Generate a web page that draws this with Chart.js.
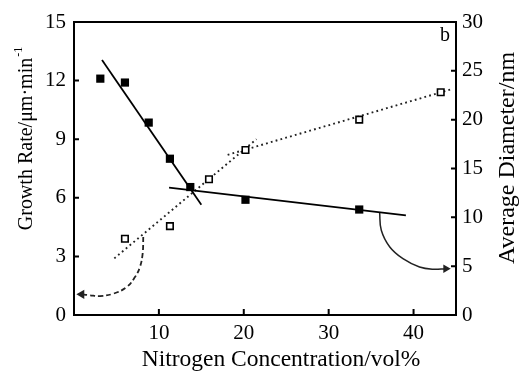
<!DOCTYPE html>
<html>
<head>
<meta charset="utf-8">
<script src="https://cdn.jsdelivr.net/npm/chart.js@4/dist/chart.umd.min.js"></script>
<style>
html, body { margin: 0; padding: 0; background: #fff; }
#wrap { width: 526px; height: 374px; }
</style>
</head>
<body>
<div id="wrap"><canvas id="lineChart"></canvas></div>
<script>
// growth rate, left axis (filled squares)
var rateX = [3.1, 6.0, 8.8, 11.3, 13.7, 20.2, 33.6];
var rateY = [12.1, 11.9, 9.85, 8.0, 6.55, 5.9, 5.4];
// average diameter, right axis (open squares)
var diamX = [6.0, 11.3, 15.9, 20.2, 33.6, 43.2];
var diamY = [7.8, 9.1, 13.9, 16.9, 20.0, 22.8];
// fitted lines
var fit1X = [3.3, 15.0];
var fit1Y = [13.05, 5.65];
var fit2X = [11.2, 39.1];
var fit2Y = [6.52, 5.1];
var dotAX = [4.75, 21.5];
var dotAY = [5.8, 18.0];
var dotBX = [18.1, 44.4];
var dotBY = [16.4, 23.1];
// curved arrows pointing at the axes
var arrLX = [8.16, 8.09, 7.77, 7.18, 6.2, 4.63, 3.06, 1.88, 0.9];
var arrLY = [3.99, 3.15, 2.46, 1.94, 1.43, 1.09, 0.97, 1.01, 1.06];
var arrRX = [36.0, 36.2, 37.2, 38.75, 40.7, 42.3, 43.8];
var arrRY = [10.54, 8.67, 6.96, 5.76, 4.91, 4.68, 4.74];
// ticks
var xTicks = [10, 20, 30, 40];
var leftTicks = [0, 3, 6, 9, 12, 15];
var rightTicks = [0, 5, 10, 15, 20, 25, 30];

var serif = '"Liberation Serif", "Times New Roman", serif';
Chart.defaults.color = '#000';
Chart.defaults.font.family = serif;

function pts(xs, ys) {
  return xs.map(function (x, i) { return { x: x, y: ys[i] }; });
}
function headOnly(n, r) {
  return Array.from({ length: n }, function (_, i) { return i === n - 1 ? r : 0; });
}

var frame = {
  id: 'frame',
  afterDraw: function (chart) {
    var ctx = chart.ctx, a = chart.chartArea;
    var sx = chart.scales.x, sl = chart.scales.y, sr = chart.scales.y2;
    ctx.save();
    ctx.strokeStyle = '#000';
    ctx.lineWidth = 2;
    ctx.strokeRect(a.left, a.top, a.right - a.left, a.bottom - a.top);
    ctx.beginPath();
    xTicks.forEach(function (v) {
      var p = sx.getPixelForValue(v);
      ctx.moveTo(p, a.bottom); ctx.lineTo(p, a.bottom - 6);
    });
    leftTicks.forEach(function (v) {
      var p = sl.getPixelForValue(v);
      ctx.moveTo(a.left, p); ctx.lineTo(a.left + 5, p);
    });
    rightTicks.forEach(function (v) {
      var p = sr.getPixelForValue(v);
      ctx.moveTo(a.right, p); ctx.lineTo(a.right - 5, p);
    });
    ctx.stroke();

    ctx.fillStyle = '#000';
    ctx.textBaseline = 'middle';
    // x title
    ctx.font = '23.5px ' + serif;
    ctx.textAlign = 'center';
    ctx.fillText('Nitrogen Concentration/vol%', 281, 360);
    // panel letter
    ctx.font = '20px ' + serif;
    ctx.textBaseline = 'alphabetic';
    ctx.fillText('b', 445, 41);
    // left title with superscript
    ctx.save();
    ctx.translate(27, 139);
    ctx.rotate(-Math.PI / 2);
    ctx.textBaseline = 'middle';
    ctx.textAlign = 'left';
    ctx.font = '20px ' + serif;
    var main = 'Growth Rate/\u03bcm\u00b7min';
    var w1 = ctx.measureText(main).width;
    ctx.font = '12px ' + serif;
    var w2 = ctx.measureText('-1').width;
    var s = -(w1 + w2) / 2;
    ctx.font = '20px ' + serif;
    ctx.fillText(main, s, 0);
    ctx.font = '12px ' + serif;
    ctx.fillText('-1', s + w1 + 1, -8);
    ctx.restore();
    // right title
    ctx.save();
    ctx.translate(508, 158);
    ctx.rotate(-Math.PI / 2);
    ctx.textBaseline = 'middle';
    ctx.textAlign = 'center';
    ctx.font = '24px ' + serif;
    ctx.fillText('Average Diameter/nm', 0, 0);
    ctx.restore();
    ctx.restore();
  }
};

var ctxL = document.getElementById('lineChart').getContext('2d');
var myChart = new Chart(ctxL, {
  type: 'scatter',
  data: {
    datasets: [
      { data: pts(rateX, rateY), yAxisID: 'y', pointStyle: 'rect', pointRadius: 5.8,
        backgroundColor: '#000', borderColor: '#000', borderWidth: 0, showLine: false },
      { data: pts(diamX, diamY), yAxisID: 'y2', pointStyle: 'rect', pointRadius: 4.6,
        backgroundColor: '#fff', borderColor: '#000', borderWidth: 1.6, showLine: false },
      { data: pts(fit1X, fit1Y), yAxisID: 'y', showLine: true, pointRadius: 0,
        borderColor: '#000', borderWidth: 1.8 },
      { data: pts(fit2X, fit2Y), yAxisID: 'y', showLine: true, pointRadius: 0,
        borderColor: '#000', borderWidth: 1.8 },
      { data: pts(dotAX, dotAY), yAxisID: 'y2', showLine: true, pointRadius: 0,
        borderColor: '#222', borderWidth: 1.9, borderDash: [1.8, 3.2] },
      { data: pts(dotBX, dotBY), yAxisID: 'y2', showLine: true, pointRadius: 0,
        borderColor: '#222', borderWidth: 1.9, borderDash: [1.8, 3.2] },
      { data: pts(arrLX, arrLY), yAxisID: 'y', showLine: true, tension: 0.4,
        borderColor: '#222', borderWidth: 1.8, borderDash: [5, 3],
        pointStyle: 'triangle', pointRotation: 270, pointRadius: headOnly(arrLX.length, 3.5),
        backgroundColor: '#222' },
      { data: pts(arrRX, arrRY), yAxisID: 'y2', showLine: true, tension: 0.4,
        borderColor: '#222', borderWidth: 1.5,
        pointStyle: 'triangle', pointRotation: 90, pointRadius: headOnly(arrRX.length, 3.5),
        backgroundColor: '#222' }
    ]
  },
  options: {
    responsive: true,
    maintainAspectRatio: false,
    animation: false,
    layout: { padding: { top: 22, left: 0, right: 0, bottom: 0 } },
    plugins: { legend: { display: false }, tooltip: { enabled: false } },
    scales: {
      x: {
        type: 'linear', min: 0, max: 45,
        afterBuildTicks: function (s) { s.ticks = xTicks.map(function (v) { return { value: v }; }); },
        afterFit: function (s) { s.height = 59; },
        grid: { display: false, drawTicks: false },
        border: { display: false },
        ticks: { font: { size: 21 }, padding: 6, maxRotation: 0 }
      },
      y: {
        position: 'left', min: 0, max: 15,
        afterBuildTicks: function (s) { s.ticks = leftTicks.map(function (v) { return { value: v }; }); },
        afterFit: function (s) { s.width = 74; },
        grid: { display: false, drawTicks: false },
        border: { display: false },
        ticks: { font: { size: 21 }, padding: 8 }
      },
      y2: {
        position: 'right', min: 0, max: 30,
        afterBuildTicks: function (s) { s.ticks = rightTicks.map(function (v) { return { value: v }; }); },
        afterFit: function (s) { s.width = 70; },
        grid: { display: false, drawTicks: false },
        border: { display: false },
        ticks: { font: { size: 21 }, padding: 6 }
      }
    }
  },
  plugins: [frame]
});
</script>
</body>
</html>
